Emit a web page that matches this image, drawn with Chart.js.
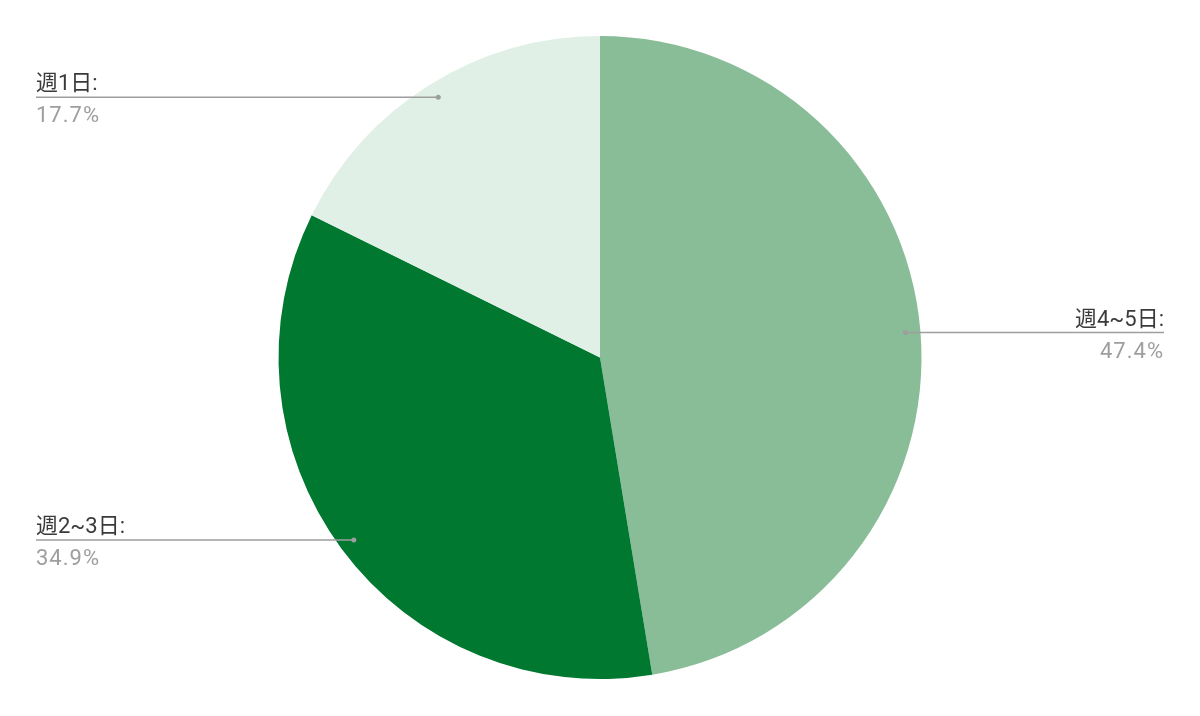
<!DOCTYPE html>
<html>
<head>
<meta charset="utf-8">
<script src="https://cdn.jsdelivr.net/npm/chart.js@4/dist/chart.umd.min.js"></script>
<style>
  html, body { margin: 0; padding: 0; background: #fff; }
  #wrap { width: 1200px; height: 716px; }
</style>
</head>
<body>
<div id="wrap"><canvas id="chart"></canvas></div>
<script>
'use strict';

// data
const labels = ['週4~5日', '週2~3日', '週1日'];
const values = [47.4, 34.9, 17.7];
const colors = ['#89bd98', '#00782f', '#e0f0e6'];

const FONT = 'Roboto, "Noto Sans CJK JP", sans-serif';

// callout labels: dot inside the slice, horizontal line out to the page edge
const calloutPlugin = {
    id: 'callouts',
    afterDraw(chart) {
        const ctx = chart.ctx;
        const meta = chart.getDatasetMeta(0);
        const total = values.reduce((a, b) => a + b, 0);
        const leftX = 36;
        const rightX = 1164;

        meta.data.forEach((arc, i) => {
            const p = arc.getProps(['x', 'y', 'startAngle', 'endAngle', 'outerRadius'], true);
            const mid = (p.startAngle + p.endAngle) / 2;
            const r = p.outerRadius * 0.953;
            const dx = p.x + Math.cos(mid) * r;
            const dy = p.y + Math.sin(mid) * r;
            const onLeft = dx < p.x;
            const endX = onLeft ? leftX : rightX;

            ctx.save();
            ctx.strokeStyle = '#9e9e9e';
            ctx.lineWidth = 1.5;
            ctx.beginPath();
            ctx.moveTo(dx, dy);
            ctx.lineTo(endX, dy);
            ctx.stroke();

            ctx.fillStyle = '#9e9e9e';
            ctx.beginPath();
            ctx.arc(dx, dy, 2.5, 0, Math.PI * 2);
            ctx.fill();

            ctx.textAlign = onLeft ? 'left' : 'right';
            ctx.textBaseline = 'alphabetic';
            ctx.font = '22px ' + FONT;
            ctx.fillStyle = '#3a3a3a';
            ctx.fillText(labels[i] + ':', endX, dy - 7);

            ctx.letterSpacing = '1px';
            ctx.fillStyle = '#9e9e9e';
            const pct = (values[i] / total * 100).toFixed(1) + '%';
            ctx.fillText(pct, endX, dy + 25);
            ctx.restore();
        });
    }
};

const chart = new Chart(document.getElementById('chart'), {
    type: 'pie',
    data: {
        labels: labels,
        datasets: [{
            data: values,
            backgroundColor: colors,
            borderWidth: 0
        }]
    },
    options: {
        responsive: true,
        maintainAspectRatio: false,
        animation: false,
        layout: { padding: { top: 36, bottom: 37, left: 0, right: 0 } },
        plugins: {
            legend: { display: false },
            tooltip: { enabled: false }
        }
    },
    plugins: [calloutPlugin]
});
</script>
</body>
</html>
